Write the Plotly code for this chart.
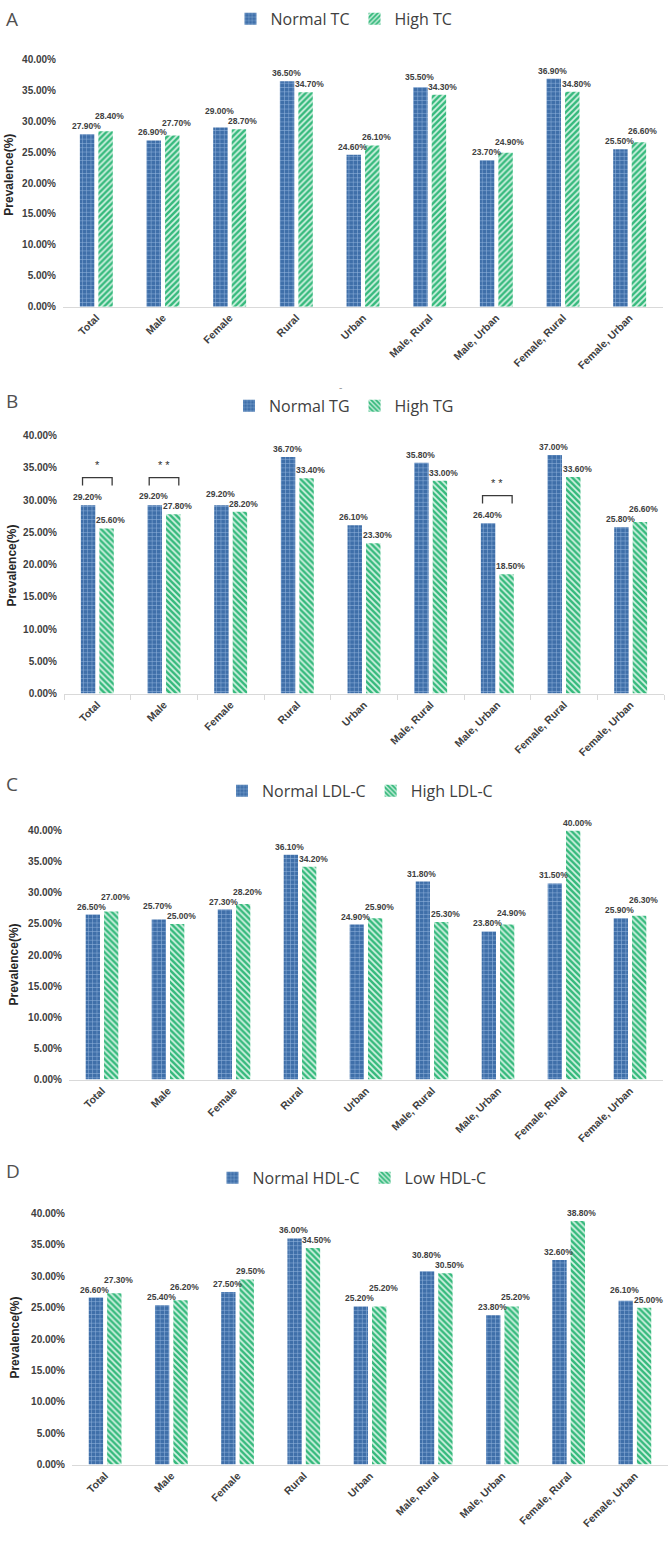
import plotly.graph_objects as go

W, H = 669, 1541

categories = ["Total", "Male", "Female", "Rural", "Urban",
              "Male, Rural", "Male, Urban", "Female, Rural", "Female, Urban"]

tc_normal = [27.9, 26.9, 29.0, 36.5, 24.6, 35.5, 23.7, 36.9, 25.5]
tc_high = [28.4, 27.7, 28.7, 34.7, 26.1, 34.3, 24.9, 34.8, 26.6]

tg_normal = [29.2, 29.2, 29.2, 36.7, 26.1, 35.8, 26.4, 37.0, 25.8]
tg_high = [25.6, 27.8, 28.2, 33.4, 23.3, 33.0, 18.5, 33.6, 26.6]
tg_sig = ["*", "* *", "", "", "", "", "* *", "", ""]

ldl_normal = [26.5, 25.7, 27.3, 36.1, 24.9, 31.8, 23.8, 31.5, 25.9]
ldl_high = [27.0, 25.0, 28.2, 34.2, 25.9, 25.3, 24.9, 40.0, 26.3]

hdl_normal = [26.6, 25.4, 27.5, 36.0, 25.2, 30.8, 23.8, 32.6, 26.1]
hdl_low = [27.3, 26.2, 29.5, 34.5, 25.2, 30.5, 25.2, 38.8, 25.0]

y_ticks = [0, 5, 10, 15, 20, 25, 30, 35, 40]

panels = [
    dict(letter="A", names=("Normal TC", "High TC"), data=(tc_normal, tc_high), sig=None,
         hatch="/", xpx=(63, 663), ypx=(54, 303), leg=(344, 13), letter_y=13,
         title_xy=(9, 170), ticks=False),
    dict(letter="B", names=("Normal TG", "High TG"), data=(tg_normal, tg_high), sig=tg_sig,
         hatch="\\", xpx=(64, 664), ypx=(433, 693), leg=(344, 403), letter_y=398,
         title_xy=(12, 564), ticks=True),
    dict(letter="C", names=("Normal LDL-C", "High LDL-C"), data=(ldl_normal, ldl_high), sig=None,
         hatch="\\", xpx=(69, 663), ypx=(831, 1082), leg=(360, 791), letter_y=784,
         title_xy=(14, 966), ticks=False),
    dict(letter="D", names=("Normal HDL-C", "Low HDL-C"), data=(hdl_normal, hdl_low), sig=None,
         hatch="\\", xpx=(72, 668), ypx=(1217, 1470), leg=(352, 1181), letter_y=1174,
         title_xy=(15, 1342), ticks=False),
]

BLUE_BG, BLUE_FG = "#3f6fa9", "#93b4dc"
GREEN_BG, GREEN_FG = "#35b97c", "#d8f4e6"
TXT = "#404040"
LABEL_FONT = dict(family="Liberation Sans, Arial", size=8.5, color=TXT, weight="bold")

BARGAP, GROUPGAP = 0.445, 0.22

fig = go.Figure()
annotations = []
shapes = []
layout = {}


def fx(px):
    return px / W


def fy(px):
    return 1 - px / H


for i, p in enumerate(panels, start=1):
    sfx = "" if i == 1 else str(i)
    xa, ya = "x" + sfx, "y" + sfx
    lg = "legend" + sfx
    normal, high = p["data"]

    fig.add_trace(go.Bar(
        x=categories, y=normal, name=p["names"][0], xaxis=xa, yaxis=ya, legend=lg,
        marker=dict(color=BLUE_BG, line=dict(width=0),
                    pattern=dict(shape="+", bgcolor=BLUE_BG, fgcolor=BLUE_FG,
                                 size=4.3, solidity=0.22, fillmode="replace")),
        hoverinfo="skip"))
    fig.add_trace(go.Bar(
        x=categories, y=high, name=p["names"][1], xaxis=xa, yaxis=ya, legend=lg,
        marker=dict(color=GREEN_BG, line=dict(width=0),
                    pattern=dict(shape=p["hatch"], bgcolor=GREEN_BG, fgcolor=GREEN_FG,
                                 size=4.2, solidity=0.4, fillmode="replace")),
        hoverinfo="skip"))

    x0, x1 = p["xpx"]
    top, bot = p["ypx"]
    layout["xaxis" + sfx] = dict(
        domain=[fx(x0), fx(x1)], anchor=ya, type="category",
        showline=True, linecolor="#d9d9d9", linewidth=1,
        showgrid=False, zeroline=False, tickangle=-45,
        ticks="outside" if p["ticks"] else "", tickson="boundaries",
        ticklen=5, tickcolor="#d9d9d9",
        tickfont=dict(family="Liberation Sans, Arial", size=10.5, color=TXT, weight="bold"),
        fixedrange=True)
    layout["yaxis" + sfx] = dict(
        domain=[fy(bot), fy(top)], anchor=xa, range=[0, 40],
        tickvals=y_ticks, ticktext=[f"{v:.2f}%" for v in y_ticks],
        showgrid=False, zeroline=False, showline=False, ticks="",
        ticklabelstandoff=6,
        tickfont=dict(family="Liberation Sans, Arial", size=10, color=TXT, weight="bold"),
        fixedrange=True)
    layout[lg] = dict(
        orientation="h", x=fx(p["leg"][0]), y=fy(p["leg"][1]),
        xanchor="center", yanchor="middle", xref="paper", yref="paper",
        font=dict(family="Open Sans", size=16, color=TXT),
        bgcolor="rgba(0,0,0,0)", itemclick=False, itemdoubleclick=False)

    annotations.append(dict(
        text=p["letter"], xref="paper", yref="paper", x=fx(4), y=fy(p["letter_y"]),
        xanchor="left", yanchor="middle", showarrow=False,
        font=dict(family="Open Sans", size=19, color="#505050")))
    annotations.append(dict(
        text="Prevalence(%)", xref="paper", yref="paper",
        x=fx(p["title_xy"][0]), y=fy(p["title_xy"][1]),
        xanchor="center", yanchor="middle", textangle=-90, showarrow=False,
        font=dict(family="Liberation Sans, Arial", size=12, color="#262626", weight="bold")))

    cw = (x1 - x0) / len(categories)
    slot = cw * (1 - BARGAP) / 2
    ppu = (bot - top) / 40.0
    for c, vn, vh in zip(categories, normal, high):
        dn, dh = 0.0, 0.0
        diff = (vh - vn) * ppu
        if abs(diff) < 10:
            if vh >= vn:
                dh = 10 - diff
            else:
                dn = 10 + diff
        annotations.append(dict(
            text=f"{vn:.2f}%", x=c, y=vn, xref=xa, yref=ya, showarrow=False,
            xanchor="center", yanchor="bottom", xshift=-slot / 2 - 1, yshift=1 + dn,
            font=LABEL_FONT))
        annotations.append(dict(
            text=f"{vh:.2f}%", x=c, y=vh, xref=xa, yref=ya, showarrow=False,
            xanchor="center", yanchor="bottom", xshift=slot / 2 + 4, yshift=1 + dh,
            font=LABEL_FONT))

    if p["sig"]:
        half = (slot * 0.8) / cw
        for k, s in enumerate(p["sig"]):
            if not s:
                continue
            yt = max(normal[k], high[k]) + 4.3
            drop = 8 / ppu
            shapes.append(dict(
                type="path", xref=xa, yref=ya,
                path=f"M {k - half},{yt - drop} L {k - half},{yt} L {k + half},{yt} L {k + half},{yt - drop}",
                line=dict(color="#3a3a3a", width=1.3)))
            annotations.append(dict(
                text=s, x=categories[k], y=yt, xref=xa, yref=ya, showarrow=False,
                xanchor="center", yanchor="bottom", yshift=5,
                font=dict(family="Liberation Sans, Arial", size=11, color="#303030")))

annotations.append(dict(
    text="-", xref="paper", yref="paper", x=fx(340), y=fy(377), showarrow=False,
    font=dict(family="Liberation Sans, Arial", size=10, color="#9a9a9a")))

fig.update_layout(
    width=W, height=H, autosize=False,
    margin=dict(l=0, r=0, t=0, b=0),
    paper_bgcolor="white", plot_bgcolor="white",
    barmode="group", bargap=BARGAP, bargroupgap=GROUPGAP,
    annotations=annotations, shapes=shapes,
    **layout)

fig.write_html(
    "out.html",
    config={"displayModeBar": False},
    post_script="document.body.style.margin='0';document.body.style.padding='0';"
                "document.body.style.overflow='hidden';",
)
